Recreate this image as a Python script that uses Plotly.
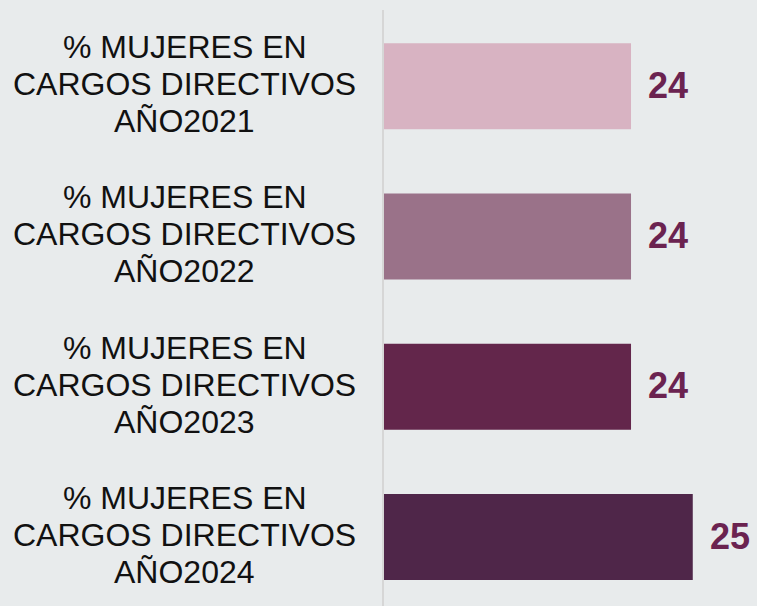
import plotly.graph_objects as go

# --- Dados ---
categorias = [
    "% MUJERES EN<br>CARGOS DIRECTIVOS<br>AÑO2021",
    "% MUJERES EN<br>CARGOS DIRECTIVOS<br>AÑO2022",
    "% MUJERES EN<br>CARGOS DIRECTIVOS<br>AÑO2023",
    "% MUJERES EN<br>CARGOS DIRECTIVOS<br>AÑO2024",
]
valores = [24, 24, 24, 25]
cores = ["#d8b3c2", "#9a7289", "#63264b", "#4f2649"]

fig = go.Figure(
    go.Bar(
        x=valores,
        y=categorias,
        orientation="h",
        marker=dict(color=cores, line=dict(width=0)),
        width=0.573,
        hoverinfo="skip",
    )
)

# rótulos das categorias (3 linhas cada)
for cat in categorias:
    for i, linha in enumerate(cat.split("<br>")):
        fig.add_annotation(
            x=-0.534, xref="paper", y=cat, yref="y",
            text=linha, showarrow=False, xanchor="center", yanchor="middle",
            yshift=(1 - i) * 37 + 2,
            font=dict(family="Liberation Sans, Arial", size=32, color="#111111"),
        )

# valores ao lado das barras
for cat, v in zip(categorias, valores):
    fig.add_annotation(
        x=v, y=cat, text=f"<b>{v}</b>", showarrow=False,
        xanchor="left", yanchor="middle", xshift=15, yshift=1,
        font=dict(family="Liberation Sans, Arial", size=36, color="#6b2350"),
    )

fig.update_layout(
    width=757, height=606,
    margin=dict(l=384, r=0, t=10, b=0),
    paper_bgcolor="#e8ebec",
    plot_bgcolor="#e8ebec",
    showlegend=False,
    xaxis=dict(range=[20, 26.04], visible=False, fixedrange=True),
    yaxis=dict(
        range=[3.459, -0.507],
        showticklabels=False,
        showgrid=False,
        zeroline=False,
        showline=True,
        linecolor="#d6d6d6",
        linewidth=2,
        ticks="",
        fixedrange=True,
    ),
)

fig.write_html(
    "out.html",
    config={"displayModeBar": False},
    post_script="document.body.style.margin='0';document.body.style.background='#e8ebec';",
)
